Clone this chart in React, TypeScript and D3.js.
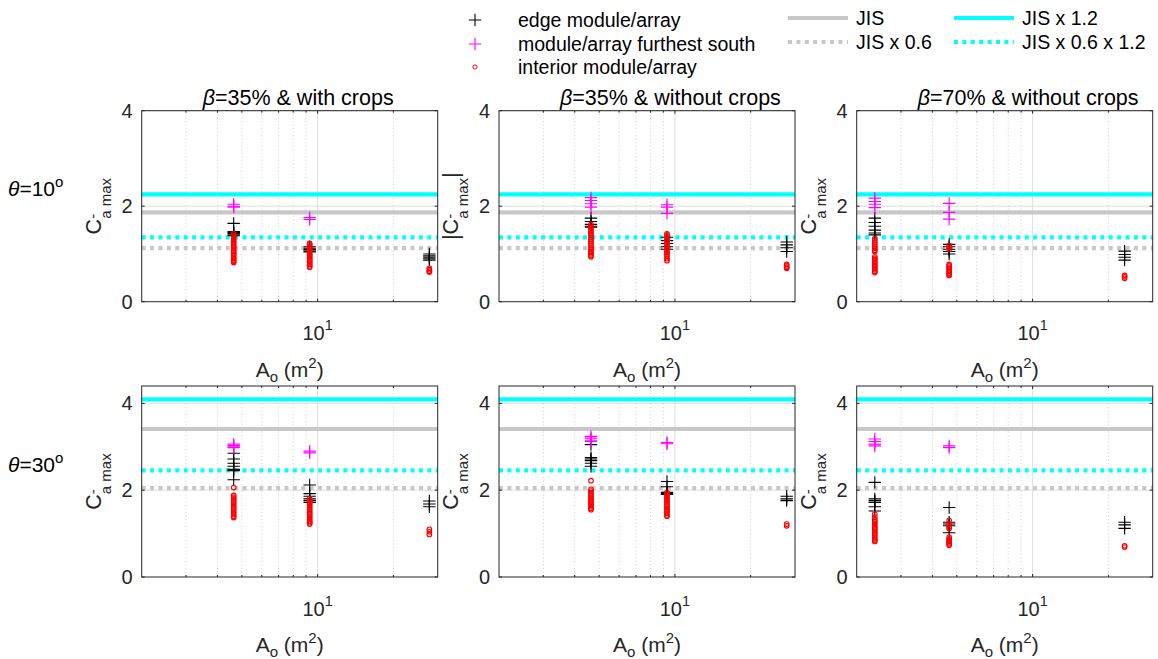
import React from 'react';
import * as d3 from 'd3';

const FONT = '"Liberation Sans", Arial, Helvetica, sans-serif';
const AX = '#262626';

// x positions (A_o in m^2) of the three configurations
const areaBeta35 = [4.64, 9.3, 27.8];
const areaBeta70 = [2.36, 4.66, 23.2];

// JIS reference value for each tilt row
const jisBase = [1.872, 3.41];
const rowYMax = [4, 4.4];
const rowTheta = ['10', '30'];

const yTicks = [0, 2, 4];
const xMinorGrid = [3, 4, 5, 6, 7, 8, 9, 20];
const xMajorGrid = [10];

const titleBeta = ['35', '35', '70'];
const titleRest = ['% & with crops', '% & without crops', '% & without crops'];

// theta = 10 deg, beta = 35% with crops
const edge10a = [[1.64, 1.47, 1.45, 1.43, 1.40, 1.38], [1.15, 1.12, 1.09, 1.06, 1.04], [1.00, 0.96, 0.93, 0.90, 0.87]];
const south10a = [[2.04, 2.00, 1.98], [1.76, 1.72], []];
const inter10a = [
  [1.42, 1.38, 1.35, 1.32, 1.28, 1.25, 1.22, 1.18, 1.15, 1.12, 1.08, 1.05, 1.02, 0.99, 0.96, 0.93, 0.90, 0.87, 0.84, 0.82],
  [1.22, 1.19, 1.16, 1.12, 1.09, 1.06, 1.02, 0.99, 0.96, 0.93, 0.90, 0.87, 0.84, 0.81, 0.78, 0.75, 0.72],
  [0.70, 0.67, 0.64, 0.62],
];
// theta = 10 deg, beta = 35% without crops
const edge10b = [[1.75, 1.68, 1.62, 1.58, 1.56], [1.35, 1.28, 1.22, 1.15, 1.10], [1.25, 1.19, 1.13, 1.05]];
const south10b = [[2.18, 2.12, 2.05, 1.98], [2.03, 1.98, 1.85], []];
const inter10b = [
  [1.62, 1.58, 1.55, 1.50, 1.46, 1.42, 1.38, 1.34, 1.30, 1.26, 1.22, 1.18, 1.14, 1.10, 1.06, 1.03, 1.00, 0.97, 0.94],
  [1.42, 1.38, 1.34, 1.30, 1.26, 1.22, 1.18, 1.14, 1.10, 1.06, 1.02, 0.98, 0.94, 0.90, 0.86],
  [0.78, 0.75, 0.72, 0.70],
];
// theta = 10 deg, beta = 70% without crops
const edge10c = [[1.75, 1.66, 1.58, 1.50, 1.44, 1.40], [1.20, 1.15, 1.10, 1.05, 1.00], [1.06, 0.99, 0.93, 0.87]];
const south10c = [[2.17, 2.10, 2.04, 1.97], [2.06, 1.87, 1.73], []];
const inter10c = [
  [1.32, 1.28, 1.24, 1.20, 1.16, 1.12, 1.08, 1.05, 0.94, 0.91, 0.88, 0.85, 0.82, 0.79, 0.76, 0.73, 0.70, 0.67, 0.64, 0.61],
  [1.18, 1.14, 1.10, 0.78, 0.75, 0.72, 0.69, 0.66, 0.63, 0.60, 0.57, 0.55],
  [0.55, 0.52, 0.49],
];
// theta = 30 deg, beta = 35% with crops
const edge30a = [[2.85, 2.72, 2.62, 2.55, 2.48, 2.45, 2.24], [2.12, 1.92, 1.86, 1.80, 1.76, 1.72], [1.75, 1.68, 1.62]];
const south30a = [[3.06, 3.03, 3.00, 2.98], [2.90, 2.86], []];
const inter30a = [
  [2.06, 1.88, 1.84, 1.80, 1.76, 1.72, 1.68, 1.64, 1.60, 1.56, 1.52, 1.48, 1.44, 1.40, 1.37],
  [1.80, 1.76, 1.72, 1.68, 1.64, 1.60, 1.56, 1.52, 1.48, 1.44, 1.40, 1.36, 1.32, 1.28, 1.25, 1.22],
  [1.10, 1.04, 0.98],
];
// theta = 30 deg, beta = 35% without crops
const edge30b = [[3.05, 2.75, 2.72, 2.68, 2.62, 2.55], [2.20, 2.08, 1.95, 1.92, 1.90], [1.86, 1.80, 1.76]];
const south30b = [[3.24, 3.20, 3.15, 3.12], [3.10, 3.07], []];
const inter30b = [
  [2.22, 2.02, 1.98, 1.94, 1.90, 1.86, 1.82, 1.78, 1.74, 1.70, 1.66, 1.62, 1.58, 1.55],
  [1.95, 1.91, 1.87, 1.83, 1.79, 1.75, 1.71, 1.67, 1.63, 1.59, 1.55, 1.51, 1.47, 1.43, 1.40],
  [1.22, 1.18],
];
// theta = 30 deg, beta = 70% without crops
const edge30c = [[2.18, 1.80, 1.76, 1.72, 1.62, 1.52], [1.60, 1.26, 1.22, 1.18, 1.02], [1.26, 1.20, 1.12]];
const south30c = [[3.18, 3.12, 3.06, 3.02], [3.02, 2.98], []];
const inter30c = [
  [1.45, 1.38, 1.32, 1.28, 1.24, 1.20, 1.16, 1.12, 1.08, 1.04, 1.00, 0.96, 0.92, 0.88, 0.85, 0.82],
  [1.30, 1.22, 1.16, 1.12, 0.92, 0.88, 0.85, 0.82, 0.79, 0.76, 0.73],
  [0.72, 0.69],
];

const panels = [
  { row: 0, col: 0, x: areaBeta35, edge: edge10a, south: south10a, inter: inter10a, abs: false },
  { row: 0, col: 1, x: areaBeta35, edge: edge10b, south: south10b, inter: inter10b, abs: true },
  { row: 0, col: 2, x: areaBeta70, edge: edge10c, south: south10c, inter: inter10c, abs: false },
  { row: 1, col: 0, x: areaBeta35, edge: edge30a, south: south30a, inter: inter30a, abs: false },
  { row: 1, col: 1, x: areaBeta35, edge: edge30b, south: south30b, inter: inter30b, abs: false },
  { row: 1, col: 2, x: areaBeta70, edge: edge30c, south: south30c, inter: inter30c, abs: false },
];

const colLeft = [141.7, 499, 856.7];
const rowTop = [110.7, 386];
const PW = 296;
const PH = 191;

const CYAN = '#00ffff';
const GRAY = '#c8c8c8';

function Plus({ x, y, color, s = 6.2 }: { x: number; y: number; color: string; s?: number }) {
  return (
    <path d={`M${x - s},${y}H${x + s}M${x},${y - s}V${y + s}`} stroke={color} strokeWidth={1.1} fill="none" />
  );
}

function Panel({ p }: { p: typeof panels[number] }) {
  const left = colLeft[p.col];
  const top = rowTop[p.row];
  const xs = d3.scaleLog().domain([2, 30]).range([left, left + PW]);
  const ys = d3.scaleLinear().domain([0, rowYMax[p.row]]).range([top + PH, top]);
  const jis = jisBase[p.row];
  const refLines = [
    { v: jis, c: GRAY, dash: undefined },
    { v: jis * 1.2, c: CYAN, dash: undefined },
    { v: jis * 0.6, c: GRAY, dash: '4 4.4' },
    { v: jis * 0.6 * 1.2, c: CYAN, dash: '4 4.4' },
  ];
  const bottom = top + PH;
  const right = left + PW;
  const cy = top + PH / 2;
  return (
    <g>
      {xMinorGrid.map((t) => (
        <line key={'mg' + t} x1={xs(t)} x2={xs(t)} y1={top} y2={bottom} stroke="#c4c4c4" strokeWidth={0.8} strokeDasharray="1 2.5" />
      ))}
      {xMajorGrid.map((t) => (
        <line key={'Mg' + t} x1={xs(t)} x2={xs(t)} y1={top} y2={bottom} stroke="#dedede" strokeWidth={1} />
      ))}
      {yTicks.filter((t) => t > 0).map((t) => (
        <line key={'yg' + t} x1={left} x2={right} y1={ys(t)} y2={ys(t)} stroke="#dedede" strokeWidth={1} />
      ))}
      {refLines.map((r, i) => (
        <line key={'r' + i} x1={left} x2={right} y1={ys(r.v)} y2={ys(r.v)} stroke={r.c} strokeWidth={4.2} strokeDasharray={r.dash} />
      ))}
      {p.edge.map((arr, i) => arr.map((v, j) => <Plus key={`e${i}-${j}`} x={xs(p.x[i])} y={ys(v)} color="#000" />))}
      {p.south.map((arr, i) => arr.map((v, j) => <Plus key={`s${i}-${j}`} x={xs(p.x[i])} y={ys(v)} color="#ff00ff" />))}
      {p.inter.map((arr, i) => arr.map((v, j) => (
        <circle key={`c${i}-${j}`} cx={xs(p.x[i])} cy={ys(v)} r={2.3} fill="none" stroke="#ff0000" strokeWidth={1.1} />
      )))}
      <rect x={left} y={top} width={PW} height={PH} fill="none" stroke={AX} strokeWidth={1} />
      {yTicks.map((t) => (
        <g key={'yt' + t}>
          <line x1={left} x2={left + 3} y1={ys(t)} y2={ys(t)} stroke={AX} />
          <line x1={right} x2={right - 3} y1={ys(t)} y2={ys(t)} stroke={AX} />
          <text x={left - 9} y={ys(t) + 7} textAnchor="end" fontSize={20} fill={AX} fontFamily={FONT}>{t}</text>
        </g>
      ))}
      {xMajorGrid.map((t) => (
        <g key={'xt' + t}>
          <line x1={xs(t)} x2={xs(t)} y1={bottom} y2={bottom - 3} stroke={AX} />
          <line x1={xs(t)} x2={xs(t)} y1={top} y2={top + 3} stroke={AX} />
          <text x={xs(t)} y={bottom + 38.5} textAnchor="middle" fontSize={20} fill={AX} fontFamily={FONT}>
            10<tspan dy={-10} fontSize={14.5}>1</tspan>
          </text>
        </g>
      ))}
      {xMinorGrid.map((t) => (
        <g key={'xm' + t}>
          <line x1={xs(t)} x2={xs(t)} y1={bottom} y2={bottom - 2} stroke={AX} />
          <line x1={xs(t)} x2={xs(t)} y1={top} y2={top + 2} stroke={AX} />
        </g>
      ))}
      <text x={left + PW / 2} y={bottom + 75} textAnchor="middle" fontSize={21} fill={AX} fontFamily={FONT}>
        A<tspan dy={5} fontSize={15}>o</tspan><tspan dy={-5}> (m</tspan><tspan dy={-9} fontSize={15}>2</tspan><tspan dy={9}>)</tspan>
      </text>
      <text transform={`translate(${left - 41},${cy}) rotate(-90)`} textAnchor="middle" fontSize={21.5} fill={AX} fontFamily={FONT}>
        {p.abs ? '|' : ''}C<tspan dy={-3} fontSize={15}>-</tspan><tspan dx={-5} dy={13} fontSize={15}>a max</tspan>
        <tspan dy={-10}>{p.abs ? '|' : ''}</tspan>
      </text>
      {p.row === 0 && (
        <text x={left + 61} y={105} fontSize={21.5} fill="#000" fontFamily={FONT}>
          <tspan fontStyle="italic">β</tspan>={titleBeta[p.col]}{titleRest[p.col]}
        </text>
      )}
    </g>
  );
}

export default function App() {
  const legendMarkers = [
    { label: 'edge module/array', kind: 'plus', color: '#000' },
    { label: 'module/array furthest south', kind: 'plus', color: '#ff00ff' },
    { label: 'interior module/array', kind: 'circle', color: '#ff0000' },
  ];
  const legendLines = [
    { label: 'JIS', c: GRAY, dash: undefined, col: 0, row: 0 },
    { label: 'JIS x 1.2', c: CYAN, dash: undefined, col: 1, row: 0 },
    { label: 'JIS x 0.6', c: GRAY, dash: '4 4.4', col: 0, row: 1 },
    { label: 'JIS x 0.6 x 1.2', c: CYAN, dash: '4 4.4', col: 1, row: 1 },
  ];
  const lineColX = [788, 954];
  const lineRowY = [18, 42];
  const markRowY = [20, 44, 67];
  return (
    <svg width={1158} height={659} style={{ position: 'absolute', left: 0, top: 0, background: '#fff' }}>
      <rect width={1158} height={659} fill="#fff" />
      {panels.map((p, i) => <Panel key={i} p={p} />)}
      {rowTheta.map((t, i) => (
        <text key={t} x={8} y={[196, 472][i]} fontSize={21} fill="#000" fontFamily={FONT}>
          <tspan fontStyle="italic">θ</tspan>={t}<tspan dy={-9} fontSize={15}>o</tspan>
        </text>
      ))}
      {legendMarkers.map((m, i) => (
        <g key={m.label}>
          {m.kind === 'plus' ? (
            <Plus x={475} y={markRowY[i]} color={m.color} />
          ) : (
            <circle cx={475} cy={markRowY[i]} r={2.1} fill="none" stroke={m.color} strokeWidth={1} />
          )}
          <text x={518} y={markRowY[i] + 7} fontSize={19.5} fill="#000" fontFamily={FONT}>{m.label}</text>
        </g>
      ))}
      {legendLines.map((l) => (
        <g key={l.label}>
          <line x1={lineColX[l.col]} x2={lineColX[l.col] + 60} y1={lineRowY[l.row]} y2={lineRowY[l.row]} stroke={l.c} strokeWidth={4.2} strokeDasharray={l.dash} />
          <text x={lineColX[l.col] + 68} y={lineRowY[l.row] + 7} fontSize={19.5} fill="#000" fontFamily={FONT}>{l.label}</text>
        </g>
      ))}
    </svg>
  );
}
